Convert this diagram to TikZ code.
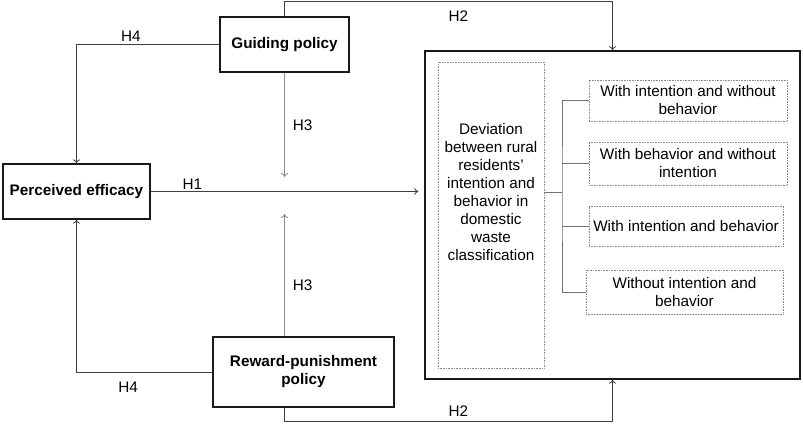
\documentclass[tikz,border=0pt]{standalone}
\usepackage{fontspec}
\setmainfont{Liberation Sans}
\usetikzlibrary{arrows.meta}
\begin{document}
    \begin{tikzpicture}[x=1pt, y=-1pt, >={To[length=4pt, width=7pt]},
        font=\fontsize{15.3}{18}\selectfont,
        box/.style={draw=black!90, line width=1.2pt, inner sep=0pt, align=center, font=\fontsize{15.3}{18}\selectfont\bfseries},
        dots/.style={draw=black!45, densely dotted, line width=0.6pt, inner sep=0pt, align=center},
        link/.style={draw=black!75, line width=0.8pt},
        faint/.style={draw=black!45, line width=0.8pt},
        brk/.style={draw=black!55, line width=0.7pt},
        lbl/.style={inner sep=2pt}]
        \useasboundingbox (0, 0) rectangle (803, 424);

        \node[box, minimum width=129pt, minimum height=55pt] (g) at (284.5, 44.5) {Guiding policy};
        \node[box, minimum width=147pt, minimum height=55pt] (p) at (76.5, 191.5) {Perceived efficacy};
        \node[box, minimum width=181pt, minimum height=70pt] (r) at (303.5, 372) {Reward-punishment\\policy};
        \node[box, line width=1.4pt, minimum width=375pt, minimum height=328pt] (big) at (612.5, 215) {};

        \node[dots, minimum width=106pt, minimum height=306pt] (devbox) at (491, 215) {};
        \node[align=center, inner sep=0pt] (dev) at (491, 192) {Deviation\\between rural\\residents’\\intention and\\behavior in\\domestic\\waste\\classification};

        \node[dots, minimum width=198pt, minimum height=41pt] (o1) at (688, 100.5) {With intention and without\\behavior};
        \node[dots, minimum width=198pt, minimum height=43pt] (o2) at (688, 163.5) {With behavior and without\\intention};
        \node[dots, minimum width=194pt, minimum height=40pt] (o3) at (686, 226) {With intention and behavior};
        \node[dots, minimum width=197pt, minimum height=44pt] (o4) at (684.5, 292) {Without intention and\\behavior};

        \coordinate (k) at (562, 192);
        \draw[brk] (devbox.east |- k) -- (k);
        \draw[brk] (o1.west) -| (k) |- (o4.west);
        \draw[brk] (o2.west) -- (o2.west -| k);
        \draw[brk] (o3.west) -- (o3.west -| k);

        \coordinate (m1) at (284.5, 177);
        \coordinate (m2) at (284.5, 214);

        \draw[link, ->, shorten >=6pt] (p.east) -- node[lbl, pos=0.153, above] {H1} (big.west |- p.east);
        \draw[faint, ->] (g.south) -- node[lbl, pos=0.5, right=6pt] {H3} (m1);
        \draw[faint, ->] (r.north -| g.south) -- node[lbl, pos=0.42, right=6pt] {H3} (m2);
        \draw[link, ->] (g.west) -| node[lbl, pos=0.31, above=1pt] {H4} (p.north);
        \draw[link, ->] (r.west) -| node[lbl, pos=0.31, below=8pt] {H4} (p.south);
        \draw[link, ->] (g.north) -- ++(0, -15) -| node[lbl, pos=0.265, below=7pt] {H2} (big.north);
        \draw[link, ->] (r.south -| g.south) -- ++(0, 14) -| node[lbl, pos=0.265, above=3pt] {H2} (big.south);

    \end{tikzpicture}
\end{document}
